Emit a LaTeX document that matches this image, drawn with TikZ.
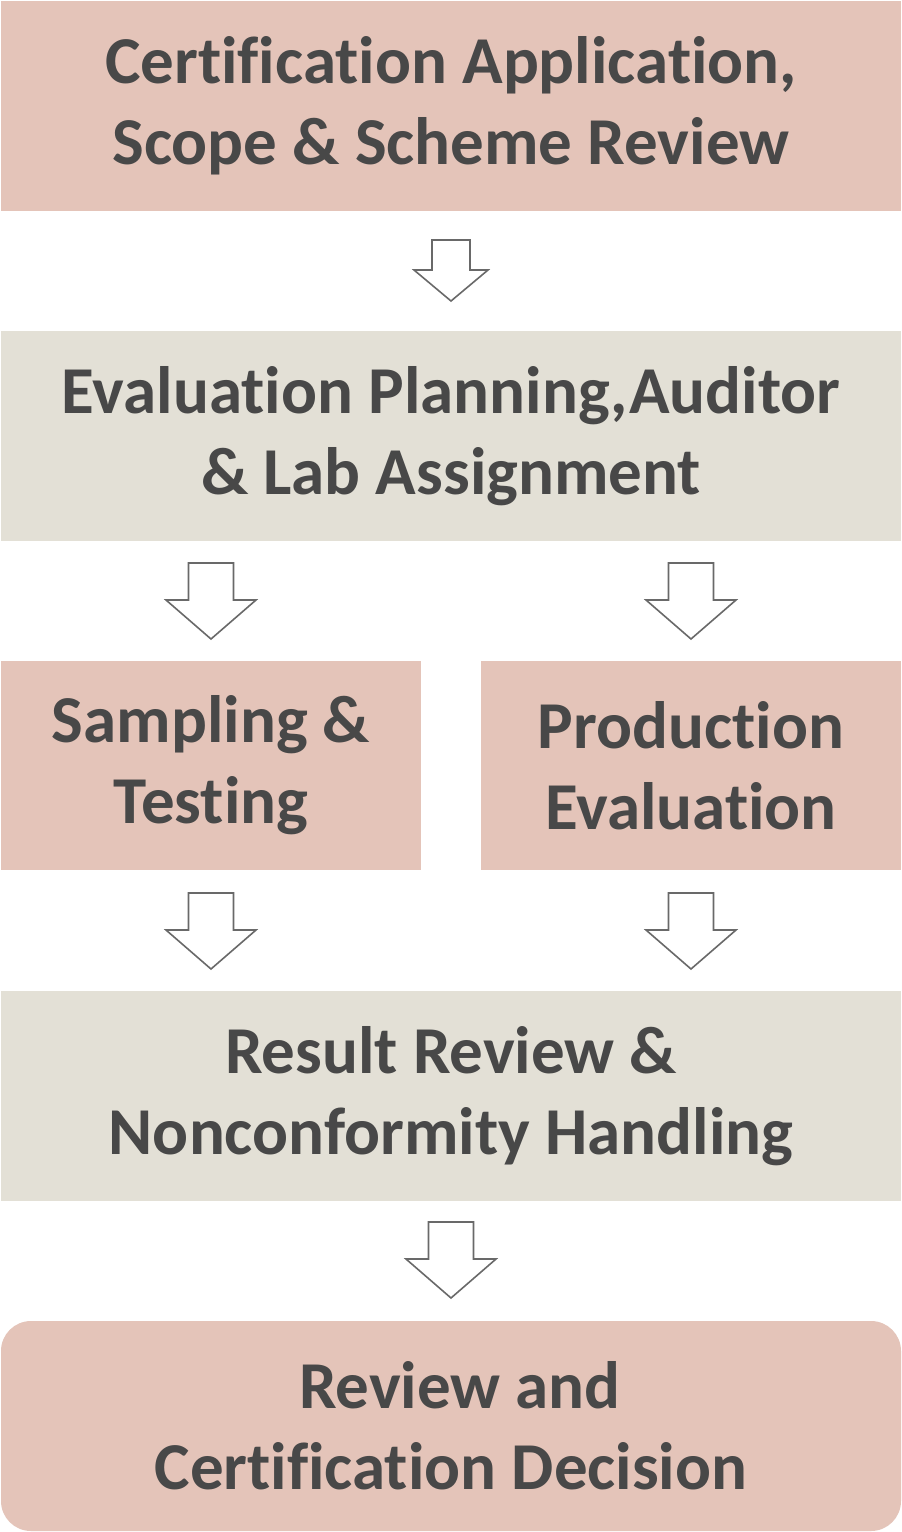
\documentclass[tikz,border=0pt]{standalone}
\usepackage{fontspec}
\setmainfont[Ligatures={NoCommon}]{Carlito}
\definecolor{pinkbox}{RGB}{228,196,185}
\definecolor{beigebox}{RGB}{227,224,214}
\definecolor{txt}{RGB}{72,72,72}
\definecolor{arr}{RGB}{105,105,105}
\tikzset{
  stage/.style={fill=#1, draw=none, inner sep=0pt, text=txt, align=center,
    font=\fontsize{67}{81}\selectfont\bfseries},
  blockarrow/.style={draw=arr, line width=1.6pt, fill=white, line join=miter},
}
\begin{document}
\begin{tikzpicture}[x=1pt,y=-1pt]
\useasboundingbox (0,0) rectangle (902,1532);
\fill[white] (0,0) rectangle (902,1532);
\node[stage=pinkbox, minimum width=900pt, minimum height=210pt] (apply) at (451,106) {Certification Application,\\Scope \& Scheme Review};
\node[stage=beigebox, minimum width=900pt, minimum height=210pt] (plan) at (451,436) {Evaluation Planning,Auditor\\\& Lab Assignment};
\node[stage=pinkbox, minimum width=420pt, minimum height=209pt] (sample) at (211,765.5) {Sampling \&\\Testing};
\node[stage=pinkbox, minimum width=420pt, minimum height=209pt] (prod) at (691,765.5) {Production\\Evaluation};
\node[stage=beigebox, minimum width=900pt, minimum height=210pt] (result) at (451,1096) {Result Review \&\\Nonconformity Handling};
\node[stage=pinkbox, rounded corners=30pt, minimum width=900pt, minimum height=210pt] (decide) at (451,1426) {\hspace*{18pt}Review and\\Certification Decision};
% block arrows between stages
\coordinate (a1) at (451,240);
\draw[blockarrow] ([xshift=-19pt]a1) -- ([xshift=19pt]a1) -- ([xshift=19pt,yshift=-30pt]a1) -- ([xshift=37pt,yshift=-30pt]a1) -- ([yshift=-61pt]a1) -- ([xshift=-37pt,yshift=-30pt]a1) -- ([xshift=-19pt,yshift=-30pt]a1) -- cycle;
\foreach \n/\cx/\ty in {a2/211/563, a3/691/563, a4/211/893, a5/691/893, a6/451/1222}{
  \coordinate (\n) at (\cx,\ty);
  \draw[blockarrow] ([xshift=-22.5pt]\n) -- ([xshift=22.5pt]\n) -- ([xshift=22.5pt,yshift=-37pt]\n) -- ([xshift=45pt,yshift=-37pt]\n) -- ([yshift=-76pt]\n) -- ([xshift=-45pt,yshift=-37pt]\n) -- ([xshift=-22.5pt,yshift=-37pt]\n) -- cycle;
}
\end{tikzpicture}
\end{document}
